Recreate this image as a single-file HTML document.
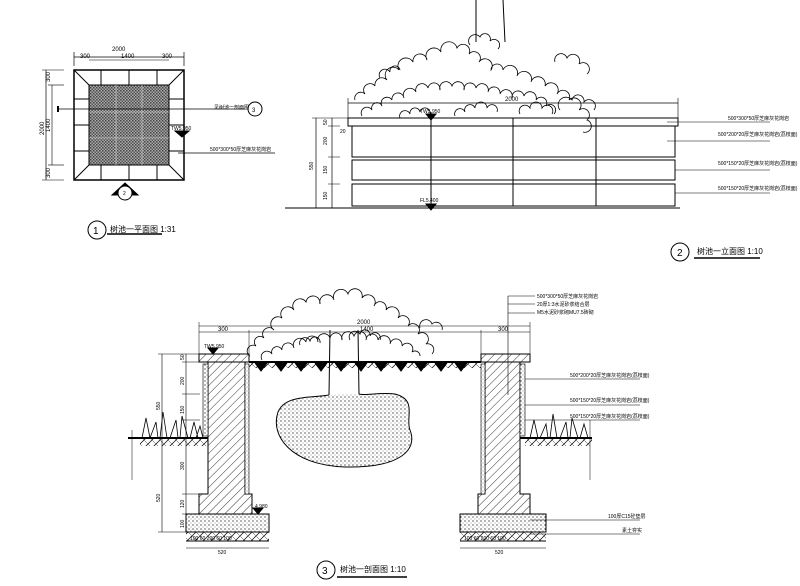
<!DOCTYPE html>
<html><head><meta charset="utf-8"><style>
html,body{margin:0;padding:0;background:#fff;}
svg{display:block}
text{font-family:"Liberation Sans","Noto Sans CJK SC",sans-serif;fill:#000}
</style></head><body>
<svg width="800" height="586" viewBox="0 0 800 586" xmlns="http://www.w3.org/2000/svg">
<defs>
<pattern id="hatch" width="6" height="6" patternUnits="userSpaceOnUse" patternTransform="rotate(45)">
<line x1="0" y1="0" x2="0" y2="6" stroke="#000" stroke-width="0.8"/></pattern>
<pattern id="dots" width="4" height="4" patternUnits="userSpaceOnUse">
<rect width="4" height="4" fill="#fff"/><circle cx="1" cy="1" r="0.6" fill="#000"/><circle cx="3" cy="3" r="0.4" fill="#000"/></pattern>
<pattern id="check" width="3" height="3" patternUnits="userSpaceOnUse">
<rect width="3" height="3" fill="#aaa"/><rect width="1.5" height="1.5" fill="#444"/><rect x="1.5" y="1.5" width="1.5" height="1.5" fill="#555"/></pattern>
<pattern id="soil" width="8" height="8" patternUnits="userSpaceOnUse">
<line x1="0" y1="8" x2="8" y2="0" stroke="#000" stroke-width="0.7"/><line x1="0" y1="0" x2="8" y2="8" stroke="#000" stroke-width="0.4"/></pattern>
</defs>
<g stroke="#000" fill="none" stroke-width="1">
<!-- ===== PLAN ===== -->
<rect x="74" y="70" width="110" height="110" stroke-width="1.5"/>
<rect x="89" y="85" width="80" height="80" fill="url(#check)"/>
<line x1="89" y1="112" x2="169" y2="112" stroke="#ddd" stroke-width="0.6"/><line x1="89" y1="138" x2="169" y2="138" stroke="#ddd" stroke-width="0.6"/>
<line x1="116" y1="85" x2="116" y2="165" stroke="#ddd" stroke-width="0.6"/><line x1="142" y1="85" x2="142" y2="165" stroke="#ddd" stroke-width="0.6"/>
<line x1="74" y1="70" x2="89" y2="85"/><line x1="184" y1="70" x2="169" y2="85"/>
<line x1="74" y1="180" x2="89" y2="165"/><line x1="184" y1="180" x2="169" y2="165"/>
<line x1="74" y1="99" x2="89" y2="99"/><line x1="74" y1="125" x2="89" y2="125"/><line x1="74" y1="151" x2="89" y2="151"/>
<line x1="169" y1="99" x2="184" y2="99"/><line x1="169" y1="125" x2="184" y2="125"/><line x1="169" y1="151" x2="184" y2="151"/>
<line x1="101" y1="70" x2="101" y2="85"/><line x1="129" y1="70" x2="129" y2="85"/><line x1="157" y1="70" x2="157" y2="85"/>
<line x1="101" y1="165" x2="101" y2="180"/><line x1="129" y1="165" x2="129" y2="180"/><line x1="157" y1="165" x2="157" y2="180"/>
<line x1="74" y1="57" x2="184" y2="57" stroke-width="0.7"/><line x1="74" y1="52" x2="74" y2="66" stroke-width="0.7"/><line x1="184" y1="52" x2="184" y2="66" stroke-width="0.7"/>
<line x1="89" y1="60" x2="169" y2="60" stroke-width="0.6"/>
<line x1="46" y1="70" x2="46" y2="180" stroke-width="0.7"/><line x1="52" y1="85" x2="52" y2="165" stroke-width="0.6"/>
<line x1="42" y1="70" x2="64" y2="70" stroke-width="0.6"/><line x1="42" y1="180" x2="64" y2="180" stroke-width="0.6"/>
<line x1="48" y1="85" x2="64" y2="85" stroke-width="0.6"/><line x1="48" y1="165" x2="64" y2="165" stroke-width="0.6"/>
<line x1="58" y1="109" x2="245" y2="109" stroke-width="0.7"/><line x1="58" y1="106" x2="58" y2="112" stroke-width="2"/>
<line x1="178" y1="153" x2="275" y2="153" stroke-width="0.7"/>
<circle cx="255" cy="109" r="7"/>
<path d="M112 195 L125 183 L138 195 Z" fill="#000"/><circle cx="125" cy="193" r="7" fill="#fff"/>
<circle cx="97" cy="230" r="9"/>
<line x1="107" y1="234" x2="162" y2="234" stroke-width="1.5"/>
<path d="M175 131 L189 131 L182 137 Z" fill="#000"/>
<!-- ===== ELEVATION ===== -->
<line x1="476" y1="0" x2="476" y2="42"/><line x1="503" y1="0" x2="505" y2="42"/>
<rect x="348" y="118" width="330" height="8" fill="#fff"/>
<rect x="352" y="126" width="323" height="31"/>
<rect x="352" y="160" width="323" height="20"/>
<rect x="352" y="184" width="323" height="22"/>
<line x1="513" y1="118" x2="513" y2="206"/><line x1="596" y1="118" x2="596" y2="206"/>
<line x1="431" y1="112" x2="431" y2="206"/>
<line x1="285" y1="208" x2="680" y2="208"/>
<line x1="348" y1="103" x2="678" y2="103" stroke-width="0.7"/>
<line x1="348" y1="98" x2="348" y2="118" stroke-width="0.6"/><line x1="678" y1="98" x2="678" y2="118" stroke-width="0.6"/>
<line x1="316" y1="118" x2="316" y2="208" stroke-width="0.7"/><line x1="332" y1="118" x2="332" y2="208" stroke-width="0.7"/>
<line x1="312" y1="118" x2="350" y2="118" stroke-width="0.5"/><line x1="328" y1="126" x2="340" y2="126" stroke-width="0.5"/>
<line x1="328" y1="157" x2="340" y2="157" stroke-width="0.5"/><line x1="328" y1="184" x2="340" y2="184" stroke-width="0.5"/>
<path d="M426 114 L436 114 L431 120 Z" fill="#000"/><path d="M426 204 L436 204 L431 210 Z" fill="#000"/>
<line x1="667" y1="122" x2="770" y2="122" stroke-width="0.6"/>
<line x1="667" y1="141" x2="770" y2="141" stroke-width="0.6"/>
<line x1="675" y1="170" x2="770" y2="170" stroke-width="0.6"/>
<line x1="675" y1="193" x2="770" y2="193" stroke-width="0.6"/>
<circle cx="680" cy="252" r="9"/>
<line x1="694" y1="258" x2="760" y2="258" stroke-width="1.5"/>
<!-- foliage elevation -->
<g stroke-width="0.8">
<path d="M355 100 a6 6 0 0 1 10 -6 a6 6 0 0 1 10 -8 a7 7 0 0 1 12 -6 a6 6 0 0 1 12 -10 a7 7 0 0 1 14 -8 a6 6 0 0 1 14 -2 a6 6 0 0 1 14 -8 a6 6 0 0 1 16 -4 a6 6 0 0 1 12 6 a6 6 0 0 1 10 8 a6 6 0 0 1 12 8 a6 6 0 0 1 12 0 a7 7 0 0 1 14 6 a6 6 0 0 1 14 6 a6 6 0 0 1 14 4 a6 6 0 0 1 12 8 a6 6 0 0 1 12 6 a6 6 0 0 1 10 10 a6 6 0 0 1 8 10 a5 5 0 0 1 -4 12"/>
<path d="M362 116 a5 5 0 0 1 10 -6 a5 5 0 0 1 10 -4 a5 5 0 0 1 10 -6 a5 5 0 0 1 12 -2 a5 5 0 0 1 12 -6 a5 5 0 0 1 12 -4 a5 5 0 0 1 12 2 a5 5 0 0 1 12 -4 a5 5 0 0 1 12 4 a5 5 0 0 1 12 -2 a5 5 0 0 1 12 4 a5 5 0 0 1 12 2 a5 5 0 0 1 12 4 a5 5 0 0 1 12 -2 a5 5 0 0 1 12 4 a5 5 0 0 1 10 6 a5 5 0 0 1 8 8"/>
<path d="M400 118 a5 5 0 0 1 10 -4 a5 5 0 0 1 10 -2 a5 5 0 0 1 10 2 M455 116 a5 5 0 0 1 10 -4 a5 5 0 0 1 10 -4 a5 5 0 0 1 12 0 a5 5 0 0 1 10 4 M520 114 a5 5 0 0 1 10 -6 a5 5 0 0 1 12 0 a5 5 0 0 1 10 6 M560 110 a6 6 0 0 1 12 -10 a6 6 0 0 1 12 2 a6 6 0 0 1 10 8 M380 78 a5 5 0 0 1 10 -6 a5 5 0 0 1 10 -2 M470 45 a5 5 0 0 1 10 -8 a5 5 0 0 1 10 4 a5 5 0 0 1 8 8 M555 62 a6 6 0 0 1 12 -4 a6 6 0 0 1 12 6 a6 6 0 0 1 8 10"/>
</g>
<!-- ===== SECTION ===== -->
<g stroke-width="0.8">
<path d="M250 356 a5 5 0 0 1 6 -10 a5 5 0 0 1 8 -8 a6 6 0 0 1 10 -8 a6 6 0 0 1 8 -12 a6 6 0 0 1 12 -8 a6 6 0 0 1 12 -8 a6 6 0 0 1 14 2 a6 6 0 0 1 14 -4 a6 6 0 0 1 14 -6 a6 6 0 0 1 14 4 a6 6 0 0 1 12 8 a6 6 0 0 1 12 4 a6 6 0 0 1 12 8 a6 6 0 0 1 10 8 a6 6 0 0 1 10 8 a6 6 0 0 1 8 10 a6 6 0 0 1 6 10"/>
<path d="M262 360 a5 5 0 0 1 10 -6 a5 5 0 0 1 10 -4 a5 5 0 0 1 12 -2 a5 5 0 0 1 12 -6 a5 5 0 0 1 12 0 a5 5 0 0 1 12 -4 a5 5 0 0 1 12 2 a5 5 0 0 1 12 -4 a5 5 0 0 1 12 4 a5 5 0 0 1 12 0 a5 5 0 0 1 12 4 a5 5 0 0 1 12 2 a5 5 0 0 1 10 6 a5 5 0 0 1 8 4"/>
<path d="M300 345 a5 5 0 0 1 10 -4 a5 5 0 0 1 10 2 M350 340 a5 5 0 0 1 10 -6 a5 5 0 0 1 10 2 a5 5 0 0 1 10 4 M420 328 a6 6 0 0 1 12 -4 a6 6 0 0 1 10 6"/>
</g>
<rect x="199" y="354" width="50" height="8" fill="url(#hatch)"/>
<rect x="481" y="354" width="49" height="8" fill="url(#hatch)"/>
<path d="M208 362 L245 362 L245 494 L252 494 L252 514 L199 514 L199 494 L208 494 Z" fill="url(#hatch)"/>
<path d="M485 362 L520 362 L520 494 L530 494 L530 514 L478 514 L478 494 L485 494 Z" fill="url(#hatch)"/>
<rect x="203" y="364" width="5" height="72" fill="url(#dots)" stroke-width="0.6"/>
<rect x="245" y="364" width="4" height="130" fill="url(#dots)" stroke-width="0.6"/>
<rect x="481" y="364" width="4" height="130" fill="url(#dots)" stroke-width="0.6"/>
<rect x="520" y="364" width="5" height="72" fill="url(#dots)" stroke-width="0.6"/>
<rect x="186" y="514" width="83" height="18" fill="url(#dots)"/>
<rect x="460" y="514" width="86" height="18" fill="url(#dots)"/>
<rect x="186" y="532" width="83" height="9" fill="url(#soil)" stroke="none"/>
<rect x="460" y="532" width="86" height="9" fill="url(#soil)" stroke="none"/>
<line x1="186" y1="541" x2="269" y2="541"/><line x1="460" y1="541" x2="546" y2="541"/>
<line x1="186" y1="548" x2="269" y2="548" stroke-width="0.6"/><line x1="460" y1="548" x2="546" y2="548" stroke-width="0.6"/>
<rect x="249" y="362" width="232" height="6" fill="url(#soil)" stroke="none"/>
<line x1="249" y1="362" x2="481" y2="362" stroke-width="2"/>
<path d="M255 363 l6 8 l6 -8 M275 363 l6 8 l6 -8 M295 363 l6 8 l6 -8 M315 363 l6 8 l6 -8 M335 363 l6 8 l6 -8 M355 363 l6 8 l6 -8 M375 363 l6 8 l6 -8 M395 363 l6 8 l6 -8 M415 363 l6 8 l6 -8 M435 363 l6 8 l6 -8 M455 363 l6 8 l6 -8" fill="#000"/>
<line x1="330" y1="330" x2="329" y2="395"/><line x1="358" y1="330" x2="359" y2="394"/>
<path d="M329 395 C310 398 285 395 278 412 C270 435 290 465 345 467 C400 468 418 450 410 430 C405 418 418 400 395 394 C380 392 365 396 359 394" fill="url(#dots)"/>
<rect x="140" y="438" width="68" height="8" fill="url(#soil)" stroke="none"/>
<rect x="525" y="438" width="67" height="8" fill="url(#soil)" stroke="none"/>
<line x1="128" y1="438" x2="208" y2="438" stroke-width="2"/><line x1="520" y1="438" x2="592" y2="438" stroke-width="2"/>
<path d="M142 438 l4 -20 l4 20 M150 438 l6 -16 l2 16 M160 438 l3 -26 l4 26 M170 438 l6 -18 l2 18 M180 438 l2 -22 l6 22 M190 438 l4 -16 l4 16 M196 438 l4 -12 l3 12 M530 438 l4 -18 l4 18 M540 438 l6 -14 l2 14 M550 438 l3 -24 l4 24 M560 438 l6 -16 l2 16 M570 438 l2 -20 l6 20 M580 438 l4 -14 l4 14" stroke-width="0.8"/>
<line x1="199" y1="326" x2="530" y2="326" stroke-width="0.6"/>
<line x1="199" y1="332" x2="530" y2="332" stroke-width="0.6"/>
<line x1="199" y1="322" x2="199" y2="354" stroke-width="0.5"/><line x1="530" y1="322" x2="530" y2="354" stroke-width="0.5"/>
<line x1="249" y1="330" x2="249" y2="354" stroke-width="0.5"/><line x1="481" y1="330" x2="481" y2="354" stroke-width="0.5"/>
<line x1="162" y1="354" x2="162" y2="532" stroke-width="0.6"/><line x1="186" y1="354" x2="186" y2="532" stroke-width="0.6"/>
<line x1="158" y1="354" x2="205" y2="354" stroke-width="0.5"/><line x1="158" y1="532" x2="190" y2="532" stroke-width="0.5"/>
<line x1="182" y1="362" x2="200" y2="362" stroke-width="0.5"/><line x1="182" y1="394" x2="200" y2="394" stroke-width="0.5"/>
<line x1="182" y1="420" x2="200" y2="420" stroke-width="0.5"/><line x1="182" y1="494" x2="200" y2="494" stroke-width="0.5"/><line x1="182" y1="514" x2="200" y2="514" stroke-width="0.5"/>
<line x1="132" y1="430" x2="132" y2="480" stroke-width="0.5"/>
<path d="M208 348 L218 348 L213 354 Z M253 508 L263 508 L258 514 Z" fill="#000"/>
<line x1="508" y1="296" x2="508" y2="395" stroke-width="0.6"/>
<line x1="508" y1="296" x2="535" y2="296" stroke-width="0.5"/><line x1="508" y1="304" x2="535" y2="304" stroke-width="0.5"/><line x1="508" y1="313" x2="535" y2="313" stroke-width="0.5"/>
<line x1="525" y1="379" x2="640" y2="379" stroke-width="0.6"/>
<line x1="525" y1="405" x2="640" y2="405" stroke-width="0.6"/>
<line x1="525" y1="420" x2="640" y2="420" stroke-width="0.6"/>
<line x1="590" y1="420" x2="590" y2="480" stroke-width="0.5"/>
<line x1="530" y1="520" x2="640" y2="520" stroke-width="0.6"/>
<line x1="530" y1="534" x2="640" y2="534" stroke-width="0.6"/>
<circle cx="326" cy="570" r="9"/>
<line x1="337" y1="577" x2="407" y2="577" stroke-width="1.5"/>
</g>
<g font-size="6">
<text x="112" y="51">2000</text><text x="80" y="58">300</text><text x="121" y="58">1400</text><text x="162" y="58">300</text>
<text x="44" y="135" transform="rotate(-90 44 135)">2000</text><text x="50" y="132" transform="rotate(-90 50 132)">1400</text>
<text x="50" y="82" transform="rotate(-90 50 82)">300</text><text x="50" y="178" transform="rotate(-90 50 178)">300</text>
<text x="214" y="109" font-size="5">见树池一剖面图</text><text x="252" y="112">3</text>
<text x="171" y="130" font-size="5">TW5.950</text>
<text x="210" y="151" font-size="5">500*300*50厚芝麻灰花岗岩</text>
<text x="123" y="195" font-size="5">2</text>
<text x="93" y="234" font-size="10">1</text><text x="110" y="232" font-size="8">树池一平面图 1:31</text>
<text x="505" y="101">2000</text>
<text x="420" y="113" font-size="5">TW5.950</text><text x="420" y="202" font-size="5">FL5.400</text>
<text x="327" y="125" font-size="5" transform="rotate(-90 327 125)">50</text>
<text x="327" y="145" font-size="5" transform="rotate(-90 327 145)">200</text>
<text x="327" y="174" font-size="5" transform="rotate(-90 327 174)">150</text>
<text x="327" y="200" font-size="5" transform="rotate(-90 327 200)">150</text>
<text x="313" y="170" font-size="5" transform="rotate(-90 313 170)">550</text>
<text x="340" y="133" font-size="5">20</text>
<text x="728" y="120" font-size="5">500*300*50厚芝麻灰花岗岩</text>
<text x="718" y="136" font-size="5">500*200*20厚芝麻灰花岗岩(荔枝面)</text>
<text x="718" y="165" font-size="5">500*150*20厚芝麻灰花岗岩(荔枝面)</text>
<text x="718" y="190" font-size="5">500*150*20厚芝麻灰花岗岩(荔枝面)</text>
<text x="677" y="256" font-size="10">2</text><text x="697" y="254" font-size="8">树池一立面图 1:10</text>
<text x="357" y="324">2000</text><text x="360" y="331">1400</text>
<text x="218" y="331">300</text><text x="498" y="331">300</text>
<text x="204" y="348" font-size="5">TW5.950</text>
<text x="255" y="508" font-size="5">4.980</text>
<text x="537" y="298" font-size="5">500*300*50厚芝麻灰花岗岩</text>
<text x="537" y="306" font-size="5">20厚1:3水泥砂浆结合层</text>
<text x="537" y="314" font-size="5">M5水泥砂浆砌MU7.5砖砌</text>
<text x="570" y="377" font-size="5">500*200*20厚芝麻灰花岗岩(荔枝面)</text>
<text x="570" y="402" font-size="5">500*150*20厚芝麻灰花岗岩(荔枝面)</text>
<text x="570" y="418" font-size="5">500*150*20厚芝麻灰花岗岩(荔枝面)</text>
<text x="608" y="518" font-size="5">100厚C15砼垫层</text>
<text x="622" y="532" font-size="5">素土夯实</text>
<text x="160" y="410" font-size="5" transform="rotate(-90 160 410)">550</text>
<text x="160" y="502" font-size="5" transform="rotate(-90 160 502)">520</text>
<text x="184" y="360" font-size="5" transform="rotate(-90 184 360)">50</text>
<text x="184" y="385" font-size="5" transform="rotate(-90 184 385)">200</text>
<text x="184" y="414" font-size="5" transform="rotate(-90 184 414)">150</text>
<text x="184" y="470" font-size="5" transform="rotate(-90 184 470)">300</text>
<text x="184" y="508" font-size="5" transform="rotate(-90 184 508)">120</text>
<text x="184" y="528" font-size="5" transform="rotate(-90 184 528)">100</text>
<text x="218" y="554" font-size="5">520</text><text x="495" y="554" font-size="5">520</text>
<text x="190" y="540" font-size="5">100 60  200  60 100</text>
<text x="464" y="540" font-size="5">100 60  200  60 100</text>
<text x="322" y="574" font-size="10">3</text><text x="340" y="572" font-size="8">树池一剖面图 1:10</text>
</g>
</svg>
</body></html>
